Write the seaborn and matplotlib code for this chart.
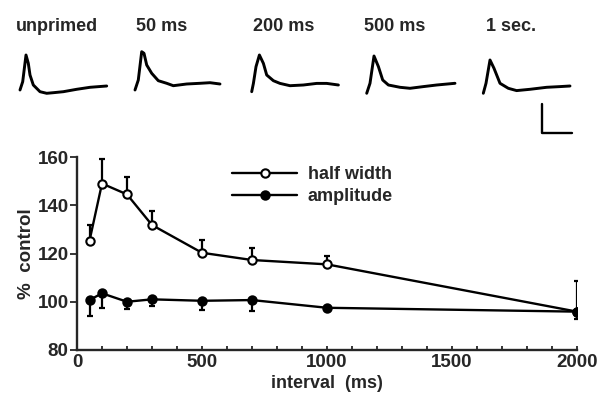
import numpy as np
import matplotlib
matplotlib.use("Agg")
import matplotlib.pyplot as plt
from matplotlib.ticker import MultipleLocator
import seaborn as sns

# summary data (percent of control)
interval = [50, 100, 200, 300, 500, 700, 1000, 2000]
half_width = [125.3, 149.0, 144.5, 131.8, 120.3, 117.3, 115.5, 95.9]
half_width_err = [6.5, 10.0, 7.3, 6.0, 5.3, 4.9, 3.5, 12.8]
amplitude = [100.7, 103.5, 100.0, 101.0, 100.4, 100.7, 97.5, 95.9]
amplitude_err = [6.6, 6.2, 3.2, 2.8, 3.8, 4.7, 1.0, 3.2]

# example traces (time, voltage in arbitrary units)
trace_labels = ["unprimed", "50 ms", "200 ms", "500 ms", "1 sec."]
trace_t = [
    [0, 2.7, 6, 8.3, 10, 13.3, 20, 26.7, 33.3, 43.3, 56.7, 70, 86.7],
    [0, 3.3, 6.7, 9, 11.7, 16.7, 23.3, 31.7, 38.3, 51.7, 65, 75, 85],
    [0, 1.7, 4.3, 7.7, 11.7, 15, 21.7, 28.3, 38.3, 51.7, 65, 75, 86.7],
    [0, 3.3, 7.3, 11.7, 16, 21.7, 33.3, 43.3, 56.7, 70, 88.3],
    [0, 2.7, 6.7, 10.7, 16.7, 25, 33.3, 46.7, 63.3, 76.7, 86.7],
]
trace_v = [
    [0, 8.3, 35, 26.7, 15, 5, -1.7, -3.3, -2.7, -1.7, 0.7, 2.7, 4],
    [0, 10, 38.3, 36.7, 25, 16.7, 9.3, 6.7, 4.3, 6, 6.7, 7.3, 6],
    [0, 8.3, 25, 36.7, 28.3, 16.7, 11, 8.3, 6, 6.7, 8.3, 8.3, 6.7],
    [0, 10, 37.3, 26.7, 13.3, 8.3, 6, 5, 6.7, 8.3, 10],
    [0, 10, 33.3, 25, 10, 5, 2.7, 4, 6, 6.7, 7.3],
]

sns.set_style("ticks")
plt.rcParams["font.family"] = ["Liberation Sans", "DejaVu Sans"]
plt.rcParams["font.weight"] = "bold"
plt.rcParams["axes.labelweight"] = "bold"
fs = 13

W, H = 607, 401
fig = plt.figure(figsize=(W / 100, H / 100), dpi=100)

# main plot, placed in pixel terms
x0, x1, y0, y1 = 77, 577, 157, 350
ax = fig.add_axes([x0 / W, 1 - y1 / H, (x1 - x0) / W, (y1 - y0) / H])

ax.errorbar(interval, half_width, yerr=[np.zeros(len(interval)), half_width_err],
            fmt="none", ecolor="black", elinewidth=1.6, capsize=2.3, capthick=1.6, zorder=2)
ax.errorbar(interval, amplitude, yerr=[amplitude_err, np.zeros(len(interval))],
            fmt="none", ecolor="black", elinewidth=1.6, capsize=2.3, capthick=1.6, zorder=2)
sns.lineplot(x=interval, y=half_width, ax=ax, color="black", lw=1.7, marker="o",
             markersize=6, markerfacecolor="white", markeredgecolor="black",
             markeredgewidth=1.5, label="half width", zorder=3)
sns.lineplot(x=interval, y=amplitude, ax=ax, color="black", lw=1.7, marker="o",
             markersize=6, markerfacecolor="black", markeredgecolor="black",
             markeredgewidth=1.5, label="amplitude", zorder=3)

ax.set_xlim(0, 2000)
ax.set_ylim(80, 160)
ax.set_xticks([0, 500, 1000, 1500, 2000])
ax.set_yticks([80, 100, 120, 140, 160])
ax.xaxis.set_minor_locator(MultipleLocator(100))
ax.tick_params(axis="x", which="both", direction="in", length=3, width=1.3,
               pad=3, labelsize=fs + 0.5)
ax.tick_params(axis="y", direction="out", length=5, width=1.3, pad=1, labelsize=fs + 0.5)
ax.set_xlabel("interval  (ms)", fontsize=fs, labelpad=2.5)
ax.set_ylabel("%  control", fontsize=fs + 0.5, labelpad=2)
sns.despine(ax=ax)
for s in ["left", "bottom"]:
    ax.spines[s].set_linewidth(1.7)
ax.set_facecolor("none")

ax.legend(loc="upper left", bbox_to_anchor=(232 / W, 1 - 166 / H),
          bbox_transform=fig.transFigure, frameon=False, fontsize=fs,
          handlelength=3.6, handletextpad=0.6, labelspacing=0.3,
          borderpad=0, borderaxespad=0)

# overlay for the example traces, in pixel coordinates
top = fig.add_axes([0, 0, 1, 1], zorder=-1)
top.set_xlim(0, W)
top.set_ylim(H, 0)
top.axis("off")

trace_start = [(20, 90), (135, 90), (251.7, 91.7), (366.7, 93.3), (483.3, 93.3)]
label_left = [15.5, 136, 253, 364, 485.5]
for i in range(len(trace_labels)):
    sx, sy = trace_start[i]
    tt = np.array(trace_t[i]) + sx
    vv = sy - np.array(trace_v[i])
    top.plot(tt, vv, color="black", lw=2.1, solid_joinstyle="round")
    top.text(label_left[i], 31, trace_labels[i], fontsize=fs, ha="left", va="baseline")

# scale bar
top.plot([541.5, 541.5, 571.5], [104, 133, 133], color="black", lw=1.7)

fig.savefig("out.png", dpi=100)
